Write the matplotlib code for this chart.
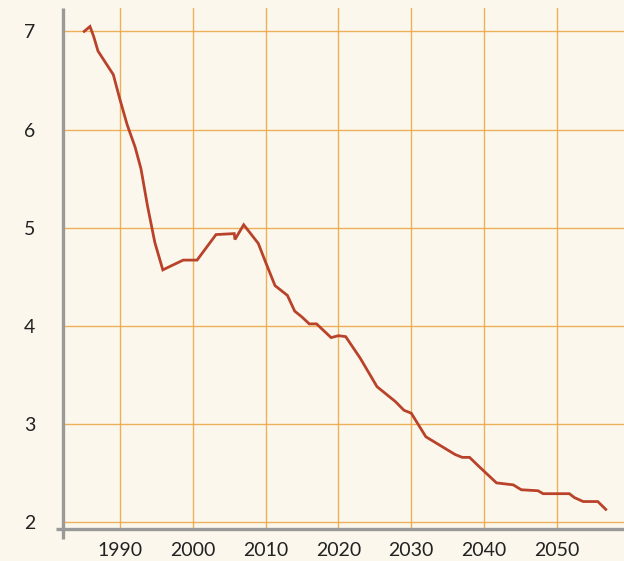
import numpy as np
import matplotlib
matplotlib.use("Agg")
import matplotlib.pyplot as plt

# values
years = [1985.1, 1985.9, 1986.4, 1987.0, 1989.1, 1990.0, 1991.0, 1992.1, 1992.9,
         1993.8, 1994.8, 1995.9, 1997.0, 1998.7, 2000.6, 2003.2, 2005.7, 2005.8,
         2007.0, 2009.0, 2010.0, 2011.3, 2013.0, 2014.0, 2015.0, 2016.0, 2017.0,
         2019.0, 2020.0, 2021.0, 2023.0, 2025.3, 2027.8, 2029.0, 2030.0, 2032.0,
         2034.0, 2036.0, 2037.0, 2038.0, 2039.4, 2041.7, 2044.0, 2045.1, 2047.4,
         2048.1, 2051.7, 2052.4, 2053.6, 2055.6, 2056.7]
values = [7.00, 7.05, 6.95, 6.80, 6.56, 6.31, 6.05, 5.82, 5.60,
          5.22, 4.85, 4.57, 4.61, 4.67, 4.67, 4.93, 4.94, 4.88,
          5.03, 4.84, 4.65, 4.41, 4.31, 4.15, 4.09, 4.02, 4.02,
          3.88, 3.90, 3.89, 3.67, 3.38, 3.23, 3.14, 3.11, 2.87,
          2.78, 2.69, 2.66, 2.66, 2.56, 2.40, 2.38, 2.33, 2.32,
          2.29, 2.29, 2.25, 2.21, 2.21, 2.13]
xticks = [1990, 2000, 2010, 2020, 2030, 2040, 2050]
yticks = [2, 3, 4, 5, 6, 7]

bg = '#fcf7ec'
grid_c = '#eba84c'
line_c = '#b8432a'
spine_c = '#999999'

plt.rcParams['font.family'] = ['Lato', 'DejaVu Sans']

fig = plt.figure(figsize=(6.24, 5.61), dpi=100, facecolor=bg)
ax = fig.add_axes([0.101, 0.057, 0.899, 0.929], facecolor=bg)

ax.plot(years, values, c=line_c, lw=2.0, zorder=5, solid_joinstyle='miter')

ax.set_xlim(1982.2, 2059.2)
ax.set_ylim(1.93, 7.24)
ax.set_xticks(xticks)
ax.set_yticks(yticks)
ax.grid(True, c=grid_c, lw=1.0, alpha=0.9, zorder=1)
ax.set_axisbelow(True)
ax.tick_params(axis='both', length=0, labelsize=14, labelcolor='#222222')
ax.tick_params(axis='y', pad=20)
ax.tick_params(axis='x', pad=9)

for edge in ['left', 'right', 'top', 'bottom']:
    ax.spines[edge].set_visible(False)
ax.plot([0, 0], [-0.02, 1], transform=ax.transAxes, c=spine_c, lw=2.4,
        clip_on=False, zorder=6, solid_capstyle='butt')
ax.plot([-0.013, 1], [0, 0], transform=ax.transAxes, c=spine_c, lw=2.4,
        clip_on=False, zorder=6, solid_capstyle='butt')

fig.savefig('out.png', dpi=100, facecolor=bg)
